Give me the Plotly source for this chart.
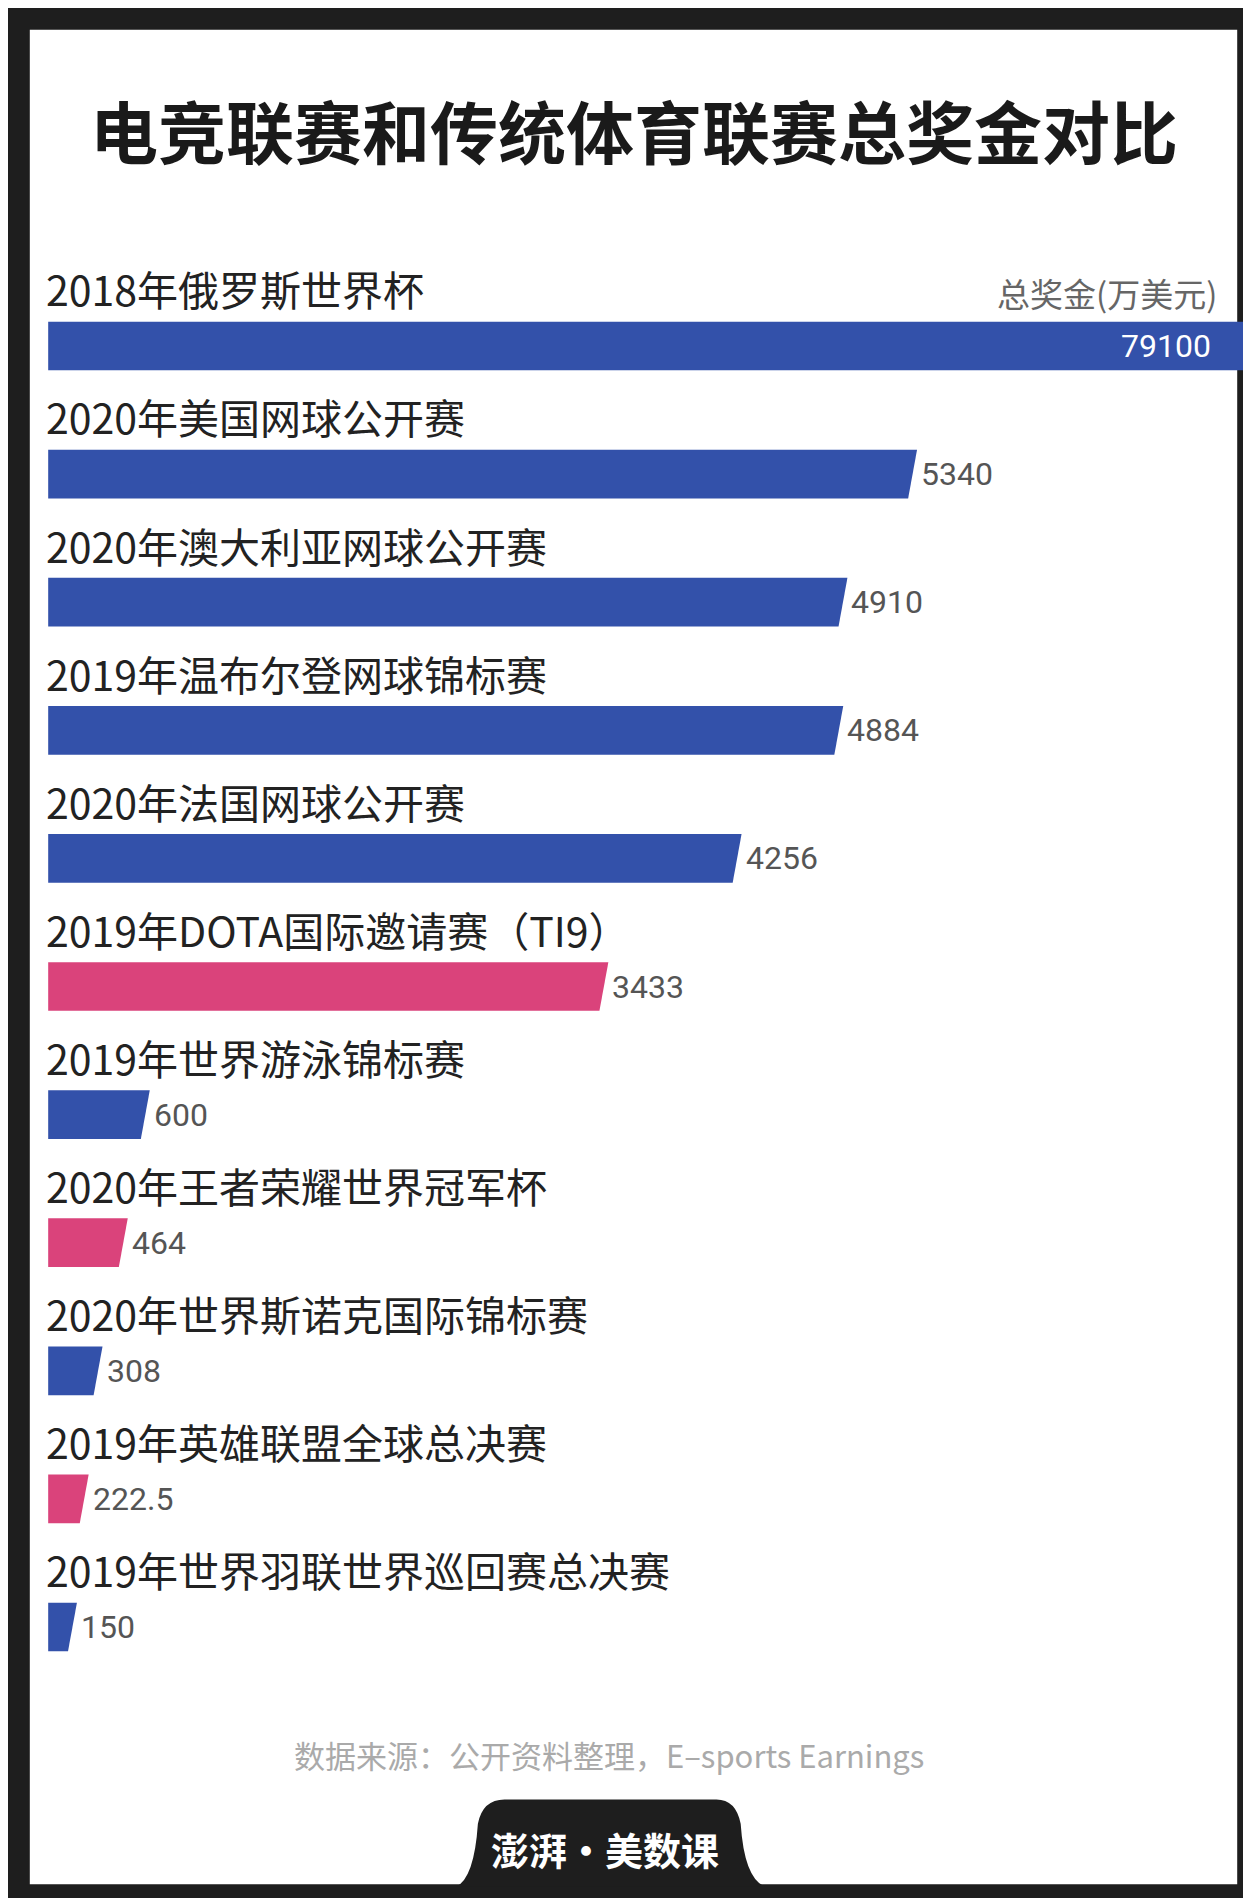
import plotly.graph_objects as go

W, H = 1251, 1898

events = ["2018年俄罗斯世界杯", "2020年美国网球公开赛", "2020年澳大利亚网球公开赛",
          "2019年温布尔登网球锦标赛", "2020年法国网球公开赛", "2019年DOTA国际邀请赛（TI9）",
          "2019年世界游泳锦标赛", "2020年王者荣耀世界冠军杯", "2020年世界斯诺克国际锦标赛",
          "2019年英雄联盟全球总决赛", "2019年世界羽联世界巡回赛总决赛"]
prize = [79100, 5340, 4910, 4884, 4256, 3433, 600, 464, 308, 222.5, 150]
labels = ["79100", "5340", "4910", "4884", "4256", "3433", "600", "464", "308", "222.5", "150"]
esports = [False, False, False, False, False, True, False, True, False, True, False]

BLUE = "#3351aa"
PINK = "#da437b"
x_max = 7480          # axis cut: the world cup bar runs off the edge
slant = 55
half = 0.19

fig = go.Figure()
for i, (v, e) in enumerate(zip(prize, esports)):
    vv = min(v, 8000)
    fig.add_trace(go.Scatter(
        x=[0, vv - slant / 2, vv + slant / 2, 0, 0],
        y=[i + half, i + half, i - half, i - half, i + half],
        fill="toself", mode="lines", line=dict(width=0),
        fillcolor=PINK if e else BLUE, hoverinfo="skip", showlegend=False))

for i, (name, v, lab) in enumerate(zip(events, prize, labels)):
    fig.add_annotation(x=0, y=i - 0.45, text=name, xanchor="left", yanchor="middle",
                       showarrow=False, xshift=-4,
                       font=dict(size=41, color="#222", family="Noto Sans CJK SC"))
    if v > x_max:
        fig.add_annotation(x=x_max, y=i, text=lab, xanchor="right", showarrow=False,
                           xshift=-46, font=dict(size=32, color="white", family="Roboto"))
    else:
        fig.add_annotation(x=v + slant / 2, y=i, text=lab, xanchor="left", showarrow=False,
                           xshift=2, font=dict(size=32, color="#555", family="Roboto"))

fig.add_annotation(x=0.5, y=1 - 121 / H, xref="paper", yref="paper", showarrow=False,
                   yanchor="middle", text="<b>电竞联赛和传统体育联赛总奖金对比</b>",
                   font=dict(size=68, color="#1a1a1a", family="Noto Sans CJK SC"))
fig.add_annotation(x=1000 / 1033, y=1 - 285 / H, xref="paper", yref="paper", showarrow=False,
                   xanchor="right", yanchor="middle", text="总奖金(万美元)",
                   font=dict(size=33, color="#666", family="Noto Sans CJK SC"))
fig.add_annotation(x=496 / 1033, y=1 - 1746 / H, xref="paper", yref="paper", showarrow=False,
                   yanchor="middle", text="数据来源：公开资料整理，E–sports Earnings",
                   font=dict(size=31, color="#aaa", family="Noto Sans CJK SC"))
fig.add_annotation(x=493 / 1033, y=1 - 1840 / H, xref="paper", yref="paper", showarrow=False,
                   yanchor="middle", text="<b>澎湃·美数课</b>",
                   font=dict(size=38, color="white", family="Noto Sans CJK SC"))

fig.add_shape(type="rect", xref="paper", yref="paper", layer="below",
              x0=18 / 1033, x1=1015 / 1033, y0=1 - 1550 / 1568, y1=1 - 18 / 1568,
              fillcolor="white", line=dict(width=0))
fig.add_shape(type="path", xref="paper", yref="paper", layer="above",
              path=f"M {370/1033},{1-1552/1568} Q {385/1033},{1-1545/1568} {388/1033},{1-1500/1568} "
                   f"Q {392/1033},{1-1480/1568} {410/1033},{1-1480/1568} L {585/1033},{1-1480/1568} "
                   f"Q {601/1033},{1-1480/1568} {605/1033},{1-1500/1568} Q {608/1033},{1-1545/1568} "
                   f"{625/1033},{1-1552/1568} Z",
              fillcolor="#1e1e1e", line=dict(width=0))

scale = 128.1
top = -338 / scale
fig.update_layout(
    width=W, height=H, margin=dict(l=0, r=0, t=0, b=0),
    paper_bgcolor="#1e1e1e", plot_bgcolor="rgba(0,0,0,0)",
    xaxis=dict(range=[-40 / 0.1611, x_max], visible=False, fixedrange=True),
    yaxis=dict(range=[top + H / scale, top], visible=False, fixedrange=True),
)
fig.write_html("out.html")
